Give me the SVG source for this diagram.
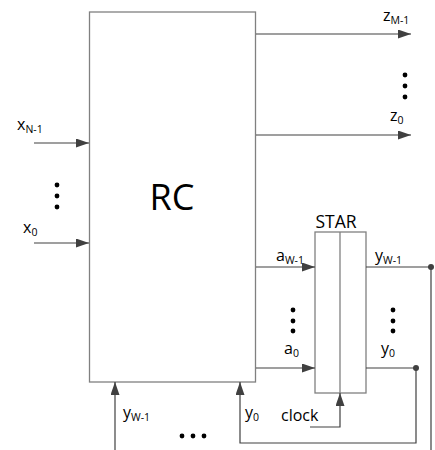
<svg xmlns="http://www.w3.org/2000/svg" width="435" height="450" viewBox="0 0 435 450">
<style>
.box{fill:#fff;stroke:#808080;stroke-width:1.3}
.w{fill:none;stroke:#404040;stroke-width:1.2}
.t{font-family:"Open Sans","Liberation Sans",sans-serif;font-size:16px;fill:#000}
.s{font-size:10.5px}
.big{font-family:"Open Sans","Liberation Sans",sans-serif;font-size:36px;fill:#000}
.dot{fill:#000}
.jn{fill:#404040}
</style>
<defs>
<marker id="ah" markerWidth="13" markerHeight="9" refX="13" refY="4.5" orient="auto" markerUnits="userSpaceOnUse">
<path d="M0,0 L13,4.5 L0,9 Z" fill="#404040"/>
</marker>
</defs>
<g id="RC">
<rect class="box" x="89.5" y="12" width="166" height="370"/>
<text class="big" x="172" y="210" text-anchor="middle">RC</text>
</g>
<g id="STAR">
<rect class="box" x="315" y="232" width="51" height="161"/>
<line class="box" x1="340" y1="232" x2="340" y2="393"/>
<text class="t" x="336" y="228" text-anchor="middle" style="font-size:17.5px">STAR</text>
</g>
<g id="connectors">
<line class="w" x1="256" y1="34" x2="411" y2="34" marker-end="url(#ah)"/>
<line class="w" x1="256" y1="135" x2="411" y2="135" marker-end="url(#ah)"/>
<line class="w" x1="34" y1="143" x2="89" y2="143" marker-end="url(#ah)"/>
<line class="w" x1="34" y1="243" x2="89" y2="243" marker-end="url(#ah)"/>
<line class="w" x1="256" y1="267" x2="315" y2="267" marker-end="url(#ah)"/>
<line class="w" x1="256" y1="368" x2="315" y2="368" marker-end="url(#ah)"/>
<polyline class="w" points="366,267 431,267 431,450"/>
<polyline class="w" points="366,368 416,368 416,443 240,443 240,382" marker-end="url(#ah)"/>
<line class="w" x1="115" y1="450" x2="115" y2="382" marker-end="url(#ah)"/>
<polyline class="w" points="310,427 340,427 340,393" marker-end="url(#ah)"/>
<circle class="jn" cx="431" cy="267" r="3"/>
<circle class="jn" cx="416" cy="368" r="3"/>
</g>
<g id="labels">
<text class="t" x="383" y="21">z<tspan class="s" dy="3">M-1</tspan></text>
<text class="t" x="390" y="121">z<tspan class="s" dy="3">0</tspan></text>
<text class="t" x="17" y="130">x<tspan class="s" dy="3">N-1</tspan></text>
<text class="t" x="23" y="233">x<tspan class="s" dy="3">0</tspan></text>
<text class="t" x="276" y="261">a<tspan class="s" dy="3">W-1</tspan></text>
<text class="t" x="284" y="354">a<tspan class="s" dy="3">0</tspan></text>
<text class="t" x="375" y="261">y<tspan class="s" dy="3">W-1</tspan></text>
<text class="t" x="381" y="354">y<tspan class="s" dy="3">0</tspan></text>
<text class="t" x="123" y="418">y<tspan class="s" dy="3">W-1</tspan></text>
<text class="t" x="245" y="418">y<tspan class="s" dy="3">0</tspan></text>
<text class="t" x="281" y="421">clock</text>
</g>
<g id="dots">
<circle class="dot" cx="405" cy="75" r="2.4"/><circle class="dot" cx="405" cy="86" r="2.4"/><circle class="dot" cx="405" cy="97" r="2.4"/>
<circle class="dot" cx="57" cy="185" r="2.4"/><circle class="dot" cx="57" cy="196" r="2.4"/><circle class="dot" cx="57" cy="207" r="2.4"/>
<circle class="dot" cx="293" cy="310" r="2.4"/><circle class="dot" cx="293" cy="321" r="2.4"/><circle class="dot" cx="293" cy="331" r="2.4"/>
<circle class="dot" cx="393" cy="310" r="2.4"/><circle class="dot" cx="393" cy="321" r="2.4"/><circle class="dot" cx="393" cy="331" r="2.4"/>
<circle class="dot" cx="182" cy="436" r="2.4"/><circle class="dot" cx="193" cy="436" r="2.4"/><circle class="dot" cx="204" cy="436" r="2.4"/>
</g>
</svg>
